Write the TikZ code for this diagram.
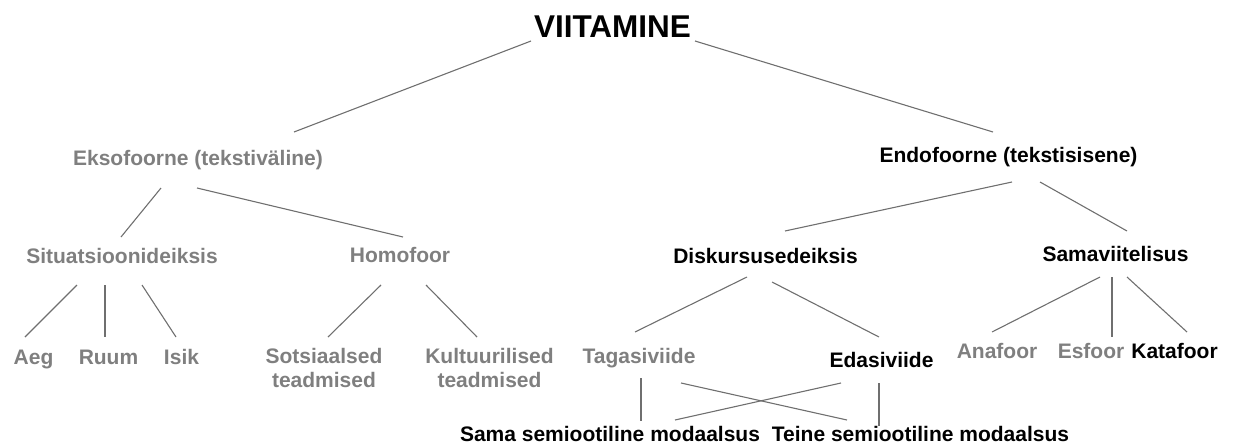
\documentclass[tikz,border=0pt]{standalone}
\usepackage{fontspec}
\setmainfont{Liberation Sans}
\usetikzlibrary{positioning}
\definecolor{labelgray}{HTML}{7F7F7F}
\definecolor{linkgray}{HTML}{6F6F6F}

\begin{document}
\begin{tikzpicture}[
        x=1pt, y=-1pt,
        every node/.style={inner sep=0pt, anchor=base, align=center, font=\bfseries\fontsize{21}{24}\selectfont},
        grey/.style={text=labelgray},
        root/.style={font=\bfseries\fontsize{31.5}{36}\selectfont},
        link/.style={draw=linkgray, line width=1.1pt}
    ]
    \useasboundingbox (0,0) rectangle (1237,447);

    % Nodes
    \node[root] (viit) at (612.5,37) {VIITAMINE};

    \node[grey] (ekso) at (198,165) {Eksofoorne (tekstiväline)};
    \node (endo) at (1008.5,162) {Endofoorne (tekstisisene)};

    \node[grey] (situ) at (122,263.5) {Situatsioonideiksis};
    \node[grey] (homo) at (400,262.5) {Homofoor};
    \node (disk) at (765.5,263) {Diskursusedeiksis};
    \node (samav) at (1115.5,261.5) {Samaviitelisus};

    \node[grey] (aeg) at (33.5,364) {Aeg};
    \node[grey] (ruum) at (108.5,364) {Ruum};
    \node[grey] (isik) at (181.5,364) {Isik};
    \node[grey] (sots) at (324,387) {Sotsiaalsed\\teadmised};
    \node[grey] (kult) at (489.5,387) {Kultuurilised\\teadmised};
    \node[grey] (taga) at (639,363.5) {Tagasiviide};
    \node (edasi) at (881.5,367.5) {Edasiviide};
    \node[grey] (ana) at (997,358.5) {Anafoor};
    \node[grey] (esf) at (1091,358.5) {Esfoor};
    \node (kata) at (1174.5,358.5) {Katafoor};

    \node (samasem) at (610,441.5) {Sama semiootiline modaalsus};
    \node (teine) at (920.5,441.5) {Teine semiootiline modaalsus};

    % Edges
    \draw[link] ([shift={(-81.5,4)}]viit.base) -- ([shift={(96,-33)}]ekso.base);
    \draw[link] ([shift={(82.5,4)}]viit.base) -- ([shift={(-15.5,-30)}]endo.base);

    \draw[link] ([shift={(-37,23)}]ekso.base) -- ([shift={(-1,-26.5)}]situ.base);
    \draw[link] ([shift={(-1,23)}]ekso.base) -- ([shift={(3,-25.5)}]homo.base);
    \draw[link] ([shift={(3.5,20)}]endo.base) -- ([shift={(19.5,-32)}]disk.base);
    \draw[link] ([shift={(31.5,20)}]endo.base) -- ([shift={(11.5,-30.5)}]samav.base);

    \draw[link] ([shift={(-45,21.5)}]situ.base) -- ([shift={(-8.5,-27)}]aeg.base);
    \draw[link] ([shift={(-17,21.5)}]situ.base) -- ([shift={(-3.5,-27)}]ruum.base);
    \draw[link] ([shift={(20,21.5)}]situ.base) -- ([shift={(-5.5,-27)}]isik.base);
    \draw[link] ([shift={(-19,22.5)}]homo.base) -- ([shift={(4,-50)}]sots.base);
    \draw[link] ([shift={(26,22.5)}]homo.base) -- ([shift={(-12.5,-50)}]kult.base);

    \draw[link] ([shift={(-18.5,14)}]disk.base) -- ([shift={(-4,-31.5)}]taga.base);
    \draw[link] ([shift={(6.5,19)}]disk.base) -- ([shift={(-2.5,-30.5)}]edasi.base);
    \draw[link] ([shift={(-15.5,15.5)}]samav.base) -- ([shift={(-5,-26.5)}]ana.base);
    \draw[link] ([shift={(-3.5,15.5)}]samav.base) -- ([shift={(21,-21.5)}]esf.base);
    \draw[link] ([shift={(11.5,15.5)}]samav.base) -- ([shift={(12.5,-26.5)}]kata.base);

    \draw[link] ([shift={(2,14.5)}]taga.base) -- ([shift={(31,-20.5)}]samasem.base);
    \draw[link] ([shift={(42,19.5)}]taga.base) -- ([shift={(-73.5,-21.5)}]teine.base);
    \draw[link] ([shift={(-40.5,15.5)}]edasi.base) -- ([shift={(65,-21.5)}]samasem.base);
    \draw[link] ([shift={(-2.5,15.5)}]edasi.base) -- ([shift={(-41.5,-15.5)}]teine.base);

\end{tikzpicture}
\end{document}
